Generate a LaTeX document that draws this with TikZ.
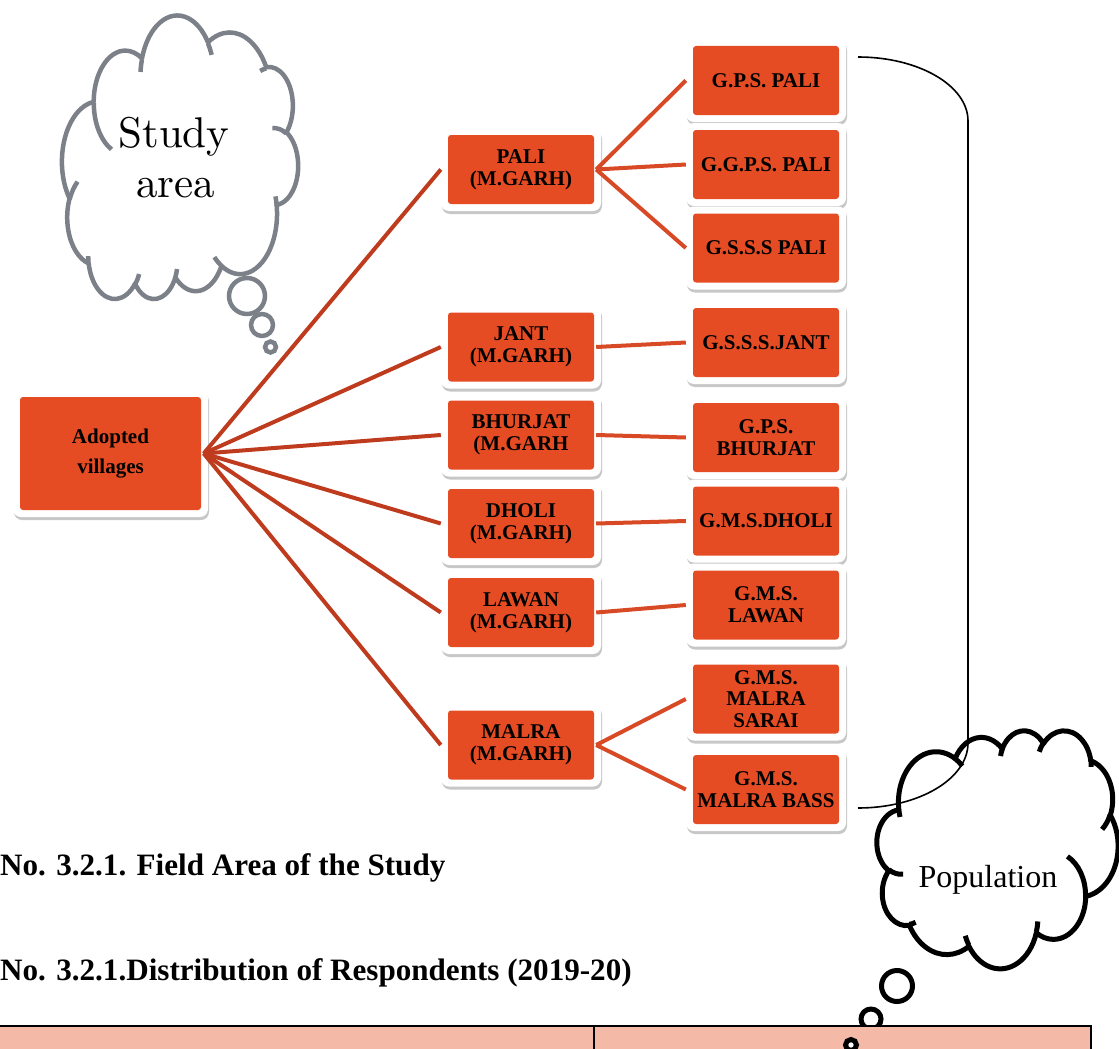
\documentclass[tikz,border=0pt]{standalone}
\usepackage{fontspec}
\newfontfamily\tnr{Liberation Serif}
\newfontfamily\lmten{lmroman10-regular.otf}
\usetikzlibrary{shadows}
\definecolor{boxfill}{RGB}{229,76,35}
\definecolor{lineA}{RGB}{191,59,30}
\definecolor{lineB}{RGB}{216,74,38}
\definecolor{cloudgray}{RGB}{124,129,137}
\definecolor{tablepink}{RGB}{245,185,167}

\newcommand\cldarc[4]{%
  \pgfmathsetmacro\cldA{#1}%
  \pgfmathsetmacro\cldB{#2}%
  \pgfmathsetmacro\cldS{#3}%
  \pgfmathsetmacro\cldW{#4}%
  \pgfmathsetmacro\cldE{\cldS+\cldW}%
  \pgfmathsetmacro\cldTS{atan2(sin(\cldS)/\cldB,cos(\cldS)/\cldA)}%
  \pgfmathsetmacro\cldTE{atan2(sin(\cldE)/\cldB,cos(\cldE)/\cldA)}%
  \pgfmathsetmacro\cldD{\cldTE-\cldTS}%
  \pgfmathsetmacro\cldD{(\cldW>0)*(\cldD<0)*360-(\cldW<0)*(\cldD>0)*360+\cldD}%
  \xdef\cldpath{\cldpath arc[start angle=\cldTS,delta angle=\cldD,x radius=\cldA,y radius=\cldB]}%
}
\newcommand\cldstub[8]{%
  \gdef\cldpath{}\cldarc{#3}{#4}{#5}{#6}%
  \edef\cldcmd{\noexpand\draw[draw=#7,line width=#8] (#1,#2) \cldpath;}\cldcmd}
% #1 scope options (placement), #2 colour, #3 line width
\newcommand\cloudshape[3]{%
  \begin{scope}[#1]
    \gdef\cldpath{}%
    \cldarc{6.753}{9.19}{-190.4875}{123.7805}%
    \cldarc{5.333}{7.267}{-144.1024}{89.9452}%
    \cldarc{4.365}{5.945}{-145.8079}{99.7230}%
    \cldarc{4.857}{6.595}{-130.9861}{117.2417}%
    \cldarc{5.333}{7.273}{-78.7089}{109.0269}%
    \cldarc{6.775}{9.22}{-46.2673}{130.269}%
    \cldarc{5.785}{7.867}{0.6250}{114.0333}%
    \cldarc{6.752}{9.215}{22.4516}{115.1726}%
    \cldarc{7.72}{10.543}{66.2426}{75.7110}%
    \cldarc{4.36}{5.918}{-274.9421}{146.7356}%
    \cldarc{4.345}{5.945}{-246.8285}{152.5189}%
    \edef\cldcmd{\noexpand\draw[draw=#2,line width=#3,fill=white,line join=round] (3.9,14.37) \cldpath -- cycle;}\cldcmd
    \cldstub{4.693}{26.177}{4.345}{5.945}{86.742}{26.4295}{#2}{#3}%
    \cldstub{6.928}{34.899}{4.36}{5.918}{73.6105}{11.4475}{#2}{#3}%
    \cldstub{16.478}{39.09}{6.752}{9.215}{137.6242}{14.0811}{#2}{#3}%
    \cldstub{28.827}{34.751}{6.752}{9.215}{6.4533}{15.9984}{#2}{#3}%
    \cldstub{34.129}{22.954}{5.785}{7.867}{-70.2924}{70.9174}{#2}{#3}%
    \cldstub{41.798}{15.354}{5.333}{7.273}{30.3180}{27.7515}{#2}{#3}%
    \cldstub{38.324}{5.426}{4.857}{6.595}{-13.7443}{14.8589}{#2}{#3}%
    \cldstub{29.078}{3.952}{4.857}{6.595}{-149.1815}{18.1985}{#2}{#3}%
    \cldstub{22.141}{4.72}{4.365}{5.945}{-163.4943}{17.6840}{#2}{#3}%
    \cldstub{14.0}{5.192}{6.753}{9.19}{-66.7070}{12.3194}{#2}{#3}%
    \cldstub{4.127}{15.789}{6.753}{9.19}{157.6544}{11.8582}{#2}{#3}%
  \end{scope}}

\tikzset{
  vbox/.style={rectangle, rounded corners=8pt, fill=white, inner sep=0pt,
    minimum width=160pt, minimum height=83pt, align=center, text=black,
    font=\tnr\bfseries\fontsize{21}{22}\selectfont,
    drop shadow={shadow xshift=1pt, shadow yshift=-3pt, opacity=0.22, fill=black},
    path picture={\fill[boxfill, rounded corners=3pt]
      ([shift={(7pt,-7pt)}]path picture bounding box.north west) rectangle
      ([shift={(-7pt,7pt)}]path picture bounding box.south east);}},
  edgeA/.style={draw=lineA, line width=4pt},
  edgeB/.style={draw=lineB, line width=4pt},
  tail/.style={fill=white},
  captxt/.style={font=\tnr\bfseries\fontsize{31.1}{36}\selectfont, anchor=base west, inner sep=0pt},
  cloudtxt/.style={font=\lmten\fontsize{43}{50}\selectfont, anchor=base, inner sep=0pt},
}

\begin{document}
\begin{tikzpicture}[x=1pt,y=-1pt]
\useasboundingbox (0,0) rectangle (1119,1049);
\clip (0,0) rectangle (1119,1049);

% study area cloud (rotated half a turn)
\draw[tail, draw=cloudgray, line width=4.5pt] (270.5,347) circle[radius=5.5];
\draw[tail, draw=cloudgray, line width=4.5pt] (262,325) circle[radius=11];
\draw[tail, draw=cloudgray, line width=4.5pt] (247,296) circle[radius=18];
\cloudshape{shift={(298,300)},x=-5.463pt,y=6.5625pt}{cloudgray}{4.5pt}
\node[cloudtxt] (study) at (174,147) {Study};
\node[cloudtxt] (area) at (175.5,197) {area};

% nodes
\node[vbox, minimum width=195pt, minimum height=127pt, font=\tnr\bfseries\fontsize{21}{30}\selectfont] (adopted) at (110.5,453.5) {Adopted\\villages};

\node[vbox] (pali) at (521,169.5) {PALI\\(M.GARH)};
\node[vbox] (jant) at (521,347) {JANT\\(M.GARH)};
\node[vbox] (bhurjat) at (521,435) {BHURJAT\\(M.GARH};
\node[vbox] (dholi) at (521,523.5) {DHOLI\\(M.GARH)};
\node[vbox] (lawan) at (521,612.5) {LAWAN\\(M.GARH)};
\node[vbox] (malra) at (521,745) {MALRA\\(M.GARH)};

\node[vbox] (gpspali) at (766,80.5) {G.P.S. PALI};
\node[vbox] (ggpspali) at (766,164.5) {G.G.P.S. PALI};
\node[vbox] (gssspali) at (766,248) {G.S.S.S PALI};
\node[vbox] (gsssjant) at (766,342.5) {G.S.S.S.JANT};
\node[vbox] (gpsbhurjat) at (766,437.5) {G.P.S.\\BHURJAT};
\node[vbox] (gmsdholi) at (766,521) {G.M.S.DHOLI};
\node[vbox] (gmslawan) at (766,605) {G.M.S.\\LAWAN};
\node[vbox, font=\tnr\bfseries\fontsize{21}{21.5}\selectfont] (gmssarai) at (766,699) {G.M.S.\\MALRA\\SARAI};
\node[vbox] (gmsbass) at (766,789.5) {G.M.S.\\MALRA BASS};

% connectors
\foreach \m in {pali,jant,bhurjat,dholi,lawan,malra}
  \draw[edgeA] ([xshift=-4.5pt]adopted.east) -- (\m.west);
\draw[edgeB] ([xshift=-5pt]pali.east) -- (gpspali.west);
\draw[edgeB] ([xshift=-5pt]pali.east) -- (ggpspali.west);
\draw[edgeB] ([xshift=-5pt]pali.east) -- (gssspali.west);
\draw[edgeB] ([xshift=-5pt]jant.east) -- (gsssjant.west);
\draw[edgeB] ([xshift=-5pt]bhurjat.east) -- (gpsbhurjat.west);
\draw[edgeB] ([xshift=-5pt]dholi.east) -- (gmsdholi.west);
\draw[edgeB] ([xshift=-5pt]lawan.east) -- (gmslawan.west);
\draw[edgeB] ([xshift=-5pt]malra.east) -- (gmssarai.west);
\draw[edgeB] ([xshift=-5pt]malra.east) -- (gmsbass.west);

% population cloud
\draw[tail, draw=black, line width=5pt] (897,986) circle[radius=15.5];
\draw[tail, draw=black, line width=5pt] (871,1019) circle[radius=10];
\cloudshape{shift={(877,730)},x=5.579pt,y=-5.509pt}{black}{5pt}
\node[font=\tnr\fontsize{32}{36}\selectfont, anchor=base, inner sep=0pt] (pop) at (988,887) {Population};

% bracket
\draw[line width=1.6pt] (858,57) arc[start angle=-90,end angle=0,x radius=110,y radius=64]
  -- (968,743) arc[start angle=0,end angle=90,x radius=110,y radius=65];

% captions
\node[captxt] (cap1) at (0,875) {No. 3.2.1. Field Area of the Study};
\node[captxt] (cap2) at (0,980) {No. 3.2.1.Distribution of Respondents (2019-20)};

% table
\fill[tablepink] (-5,1026) rectangle (1091,1070);
\draw[line width=2.5pt] (-5,1026) -- (1091,1026) -- (1091,1070);
\draw[line width=2.5pt] (594,1026) -- (594,1070);
\draw[tail, draw=black, line width=5pt] (851,1045) circle[radius=5.5];
\end{tikzpicture}
\end{document}
